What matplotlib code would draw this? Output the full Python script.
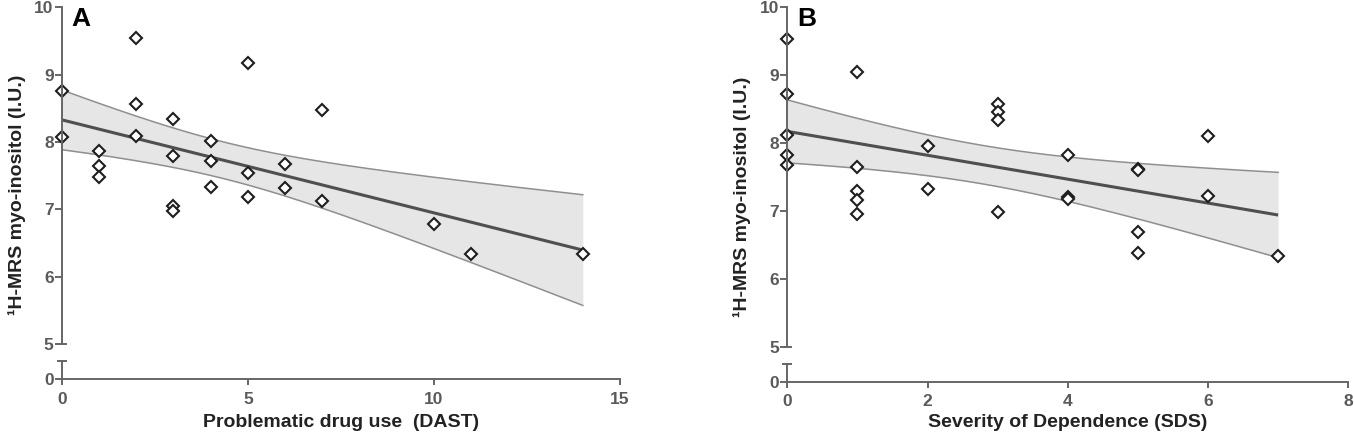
import matplotlib
matplotlib.use("Agg")
import matplotlib.pyplot as plt
import numpy as np

plt.rcParams['font.family'] = ['Liberation Sans', 'DejaVu Sans']
plt.rcParams['font.weight'] = 'bold'

W, H = 1354, 440
SPINE = "#666666"
TICK_TXT = "#5a5a5a"
LABEL_TXT = "#222222"
FILL = "#e6e6e6"
BAND_LINE = "#8f8f8f"
FIT_LINE = "#4f4f4f"

# Panel A: problematic drug use (DAST) vs myo-inositol
dast_x = [0, 0, 1, 1, 1, 2, 2, 2, 3, 3, 3, 3, 4, 4, 4,
          5, 5, 5, 6, 6, 7, 7, 10, 11, 14]
dast_y = [8.76, 8.08, 7.86, 7.65, 7.48, 9.55, 8.57, 8.09, 8.34, 7.79, 7.05, 6.97,
          8.01, 7.72, 7.33, 9.17, 7.54, 7.18, 7.68, 7.32, 8.47, 7.12, 6.78, 6.33, 6.33]
dast_ticks = [0, 5, 10, 15]

# Panel B: severity of dependence (SDS) vs myo-inositol
sds_x = [0, 0, 0, 0, 0, 1, 1, 1, 1, 1, 2, 2, 3, 3, 3, 3,
         4, 4, 4, 5, 5, 5, 5, 6, 6, 7]
sds_y = [9.53, 8.72, 8.12, 7.82, 7.68, 9.05, 7.64, 7.30, 7.16, 6.96, 7.96, 7.33,
         8.58, 8.46, 8.34, 6.99, 7.82, 7.20, 7.18, 7.62, 7.60, 6.69, 6.38,
         8.11, 7.22, 6.34]
sds_ticks = [0, 2, 4, 6, 8]

upper_ticks = [5, 6, 7, 8, 9, 10]
ylabel = "\u00b9H-MRS myo-inositol (I.U.)"

# two-sided 95% t values by degrees of freedom
T95 = {23: 2.069, 24: 2.064}

fig = plt.figure(figsize=(W / 100, H / 100), dpi=100)
fig.patch.set_facecolor("white")


def px_axes(left, right, top, bottom):
    return fig.add_axes([left / W, 1 - bottom / H, (right - left) / W, (bottom - top) / H])


def panel(x, y, ticks, xlabel, letter, left, right, y10, y5, ycap, y0):
    x = np.asarray(x, float)
    y = np.asarray(y, float)
    xmax = ticks[-1]

    ax = px_axes(left, right, y10, y5)
    axb = px_axes(left, right, ycap, y0)

    # linear fit with 95% confidence band
    n = len(x)
    mx, my = x.mean(), y.mean()
    sxx = ((x - mx) ** 2).sum()
    b1 = ((x - mx) * (y - my)).sum() / sxx
    b0 = my - b1 * mx
    s = np.sqrt(((y - (b0 + b1 * x)) ** 2).sum() / (n - 2))
    xs = np.linspace(0, x.max(), 200)
    yh = b0 + b1 * xs
    ci = T95[n - 2] * s * np.sqrt(1 / n + (xs - mx) ** 2 / sxx)

    ax.fill_between(xs, yh - ci, yh + ci, color=FILL, lw=0, zorder=1)
    ax.plot(xs, yh + ci, color=BAND_LINE, lw=1.1, zorder=1.5)
    ax.plot(xs, yh - ci, color=BAND_LINE, lw=1.1, zorder=1.5)
    ax.plot([xs[0], xs[-1]], [yh[0], yh[-1]], color=FIT_LINE, lw=2.2, zorder=1.8,
            solid_capstyle='butt')
    ax.plot(x, y, 'D', ms=5.8, mfc='white', mec='#1e1e1e', mew=1.5, ls='none',
            clip_on=False, zorder=2)

    ax.set_xlim(0, xmax)
    ax.set_ylim(5, 10)
    ax.set_yticks(upper_ticks)
    ax.set_xticks([])
    for sp in ['top', 'right', 'bottom']:
        ax.spines[sp].set_visible(False)
    ax.spines['left'].set_color(SPINE)
    ax.spines['left'].set_linewidth(1.4)
    ax.spines['left'].set_zorder(2.5)
    ax.tick_params(axis='y', length=5, width=1.4, color=SPINE, labelsize=12.5,
                   labelcolor=TICK_TXT, pad=0.8)
    ax.set_facecolor('none')
    ax.plot([0], [0], marker='_', ms=7.5, mew=1.4, color=SPINE,
            transform=ax.transAxes, clip_on=False)

    axb.set_xlim(0, xmax)
    axb.set_ylim(0, 1)
    axb.set_yticks([0])
    axb.set_xticks(ticks)
    for sp in ['top', 'right']:
        axb.spines[sp].set_visible(False)
    for sp in ['left', 'bottom']:
        axb.spines[sp].set_color(SPINE)
        axb.spines[sp].set_linewidth(1.4)
    axb.tick_params(axis='y', length=5, width=1.4, color=SPINE, labelsize=12.5,
                    labelcolor=TICK_TXT, pad=0.8)
    axb.tick_params(axis='x', length=4.3, width=1.4, color=SPINE, labelsize=12.5,
                    labelcolor=TICK_TXT, pad=4.5)
    axb.set_facecolor('none')
    axb.plot([0], [1], marker='_', ms=7.5, mew=1.4, color=SPINE,
             transform=axb.transAxes, clip_on=False)

    fig.text((left + right) / 2 / W, 1 - 427 / H, xlabel, ha='center', va='baseline',
             fontsize=14, color=LABEL_TXT)
    fig.text((left - 45) / W, 1 - ((y10 + y0) / 2 + 2) / H, ylabel, rotation=90,
             ha='center', va='center', fontsize=14, color=LABEL_TXT)
    fig.text((left + 10) / W, 1 - (y10 + 19) / H, letter, ha='left', va='baseline',
             fontsize=19, color='black')


panel(dast_x, dast_y, dast_ticks, "Problematic drug use  (DAST)", "A",
      61.7, 620, 7.3, 344, 361, 379.3)
panel(sds_x, sds_y, sds_ticks, "Severity of Dependence (SDS)", "B",
      787.3, 1348.3, 7.3, 346.7, 364, 381.7)

fig.savefig("out.png", dpi=100)
